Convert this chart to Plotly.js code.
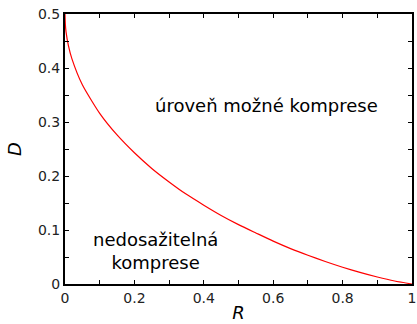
<!DOCTYPE html>
<html>
<head>
<meta charset="utf-8">
<script src="https://cdn.plot.ly/plotly-3.0.1.min.js"></script>
<style>html,body{margin:0;padding:0;background:#fff;}#chart{width:417px;height:324px;}</style>
</head>
<body>
<div id="chart"></div>
<script>
const rateR = [0, 0.001, 0.003, 0.01, 0.02, 0.05, 0.1, 0.15, 0.2, 0.25, 0.3, 0.35, 0.4, 0.45, 0.5, 0.55, 0.6, 0.65, 0.7, 0.75, 0.8, 0.85, 0.9, 0.95, 1];
const distD = [0.5, 0.481, 0.467, 0.441, 0.417, 0.369, 0.316, 0.276, 0.243, 0.214, 0.189, 0.166, 0.146, 0.127, 0.110, 0.0946, 0.0794, 0.0656, 0.0532, 0.0417, 0.0311, 0.0216, 0.0130, 0.0056, 0];
const xTickVals = [0, 0.2, 0.4, 0.6, 0.8, 1];
const xTickText = ["0", "0.2", "0.4", "0.6", "0.8", "1"];
const yTickVals = [0, 0.1, 0.2, 0.3, 0.4, 0.5];
const yTickText = ["0", "0.1", "0.2", "0.3", "0.4", "0.5"];
const labelUpper = "úroveň možné komprese";
const labelLower = "nedosažitelná<br>komprese";

const fontFam = "DejaVu Sans, sans-serif";
const trace = {
  x: rateR, y: distD, mode: "lines", type: "scatter",
  line: {color: "#ff0000", width: 1.2, shape: "spline", smoothing: 0.6},
  hoverinfo: "none"
};
const axisCommon = {
  showline: true, linecolor: "#000", linewidth: 2, mirror: "ticks",
  ticks: "inside", ticklen: 4, tickwidth: 1, tickcolor: "#000",
  showgrid: false, zeroline: false, ticklabeloverflow: "allow",
  tickfont: {family: fontFam, size: 14, color: "#222"}
};
const layout = {
  width: 417, height: 324,
  margin: {l: 64.5, r: 5, t: 13.5, b: 40},
  paper_bgcolor: "#fff", plot_bgcolor: "#fff",
  showlegend: false,
  xaxis: Object.assign({}, axisCommon, {
    range: [0, 1], tickmode: "array", tickvals: xTickVals, ticktext: xTickText,
    minor: {ticks: "inside", dtick: 0.1, tick0: 0, ticklen: 4, tickcolor: "#000", showgrid: false},
    title: {text: "<i>R</i>", font: {family: fontFam, size: 18, color: "#000"}, standoff: 2}
  }),
  yaxis: Object.assign({}, axisCommon, {
    range: [0, 0.5], tickmode: "array", tickvals: yTickVals, ticktext: yTickText,
    minor: {ticks: "inside", dtick: 0.05, tick0: 0, ticklen: 4, tickcolor: "#000", showgrid: false},
    title: {text: "<i>D</i>", font: {family: fontFam, size: 18, color: "#000"}, standoff: 12}
  }),
  annotations: [
    {x: 0.58, y: 0.331, xref: "x", yref: "y", text: labelUpper, showarrow: false,
     font: {family: fontFam, size: 18, color: "#000"}},
    {x: 0.26, y: 0.061, xref: "x", yref: "y", text: labelLower, showarrow: false,
     font: {family: fontFam, size: 18, color: "#000"}}
  ]
};
Plotly.newPlot("chart", [trace], layout, {staticPlot: true, displayModeBar: false});
</script>
</body>
</html>
